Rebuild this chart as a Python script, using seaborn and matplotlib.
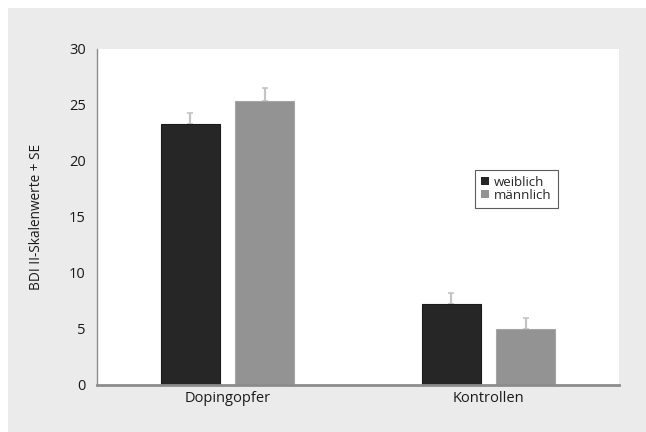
import matplotlib
matplotlib.use("Agg")
import matplotlib.pyplot as plt
from matplotlib.patches import Rectangle
import numpy as np
import pandas as pd
import seaborn as sns

# Mean BDI-II scores with standard errors per group and sex
gruppen = ["Dopingopfer", "Dopingopfer", "Kontrollen", "Kontrollen"]
geschlecht = ["weiblich", "männlich", "weiblich", "männlich"]
mittelwerte = [23.3, 25.4, 7.2, 5.0]
standardfehler = [1.0, 1.1, 1.0, 1.0]
y_ticks = [0, 5, 10, 15, 20, 25, 30]

df = pd.DataFrame({"Gruppe": gruppen, "Geschlecht": geschlecht,
                   "Wert": mittelwerte, "SE": standardfehler})

sns.set_theme(style="white")
plt.rcParams["font.family"] = ["Open Sans", "DejaVu Sans"]

fig = plt.figure(figsize=(6.46, 4.32), dpi=100, facecolor="white")
fig.patches.append(Rectangle((8 / 646, 0), 1, 1 - 8 / 432, transform=fig.transFigure,
                             facecolor="#ebebeb", edgecolor="none", zorder=-10))
ax = fig.add_axes([97 / 646, 1 - 385 / 432, 522 / 646, 336 / 432])
ax.set_facecolor("white")

farben = {"weiblich": "#262626", "männlich": "#939393"}
sns.barplot(data=df, x="Gruppe", y="Wert", hue="Geschlecht",
            hue_order=["weiblich", "männlich"], palette=farben,
            width=0.57, gap=0.2, errorbar=None, ax=ax, legend=False,
            linewidth=0.8, edgecolor="#1a1a1a", saturation=1)

# Outline colours per sex and upward-only error whiskers (drawn behind the bars)
order = [("Dopingopfer", "weiblich"), ("Kontrollen", "weiblich"),
         ("Dopingopfer", "männlich"), ("Kontrollen", "männlich")]
for patch, (g, s) in zip(ax.patches, order):
    patch.set_edgecolor("#1a1a1a" if s == "weiblich" else "#a5a5a5")
    patch.set_zorder(2)
    row = df[(df.Gruppe == g) & (df.Geschlecht == s)].iloc[0]
    xc = patch.get_x() + patch.get_width() / 2
    ax.errorbar([xc], [row.Wert], yerr=[[0], [row.SE]], fmt="none",
                ecolor="#c4c4c4", elinewidth=1.6, capsize=2.5, capthick=1.2, zorder=1)

ax.set_xlim(-0.5, 1.5)
ax.set_ylim(0, 30)
ax.set_yticks(y_ticks)
ax.tick_params(axis="both", length=0, labelsize=10.5, colors="#1a1a1a")
ax.tick_params(axis="y", pad=8)
ax.tick_params(axis="x", pad=4)
ax.set_xlabel("")
ax.set_ylabel("BDI II-Skalenwerte + SE", fontsize=9.8, color="#1a1a1a", labelpad=18)

for side in ["top", "right"]:
    ax.spines[side].set_visible(False)
ax.spines["left"].set_color("#8c8c8c")
ax.spines["left"].set_linewidth(1.0)
ax.spines["bottom"].set_color("#8c8c8c")
ax.spines["bottom"].set_linewidth(2.0)
ax.spines["bottom"].set_zorder(3)

handles = [Rectangle((0, 0), 1, 1, facecolor=farben[k], edgecolor="none")
           for k in ["weiblich", "männlich"]]
leg = ax.legend(handles, ["weiblich", "männlich"], loc="upper left",
                bbox_to_anchor=(0.724, 0.64), frameon=True, fancybox=False,
                fontsize=9.5, handlelength=0.6, handleheight=0.6, handletextpad=0.4,
                labelspacing=0.0, borderpad=0.45, borderaxespad=0)
leg.get_frame().set_edgecolor("#333333")
leg.get_frame().set_linewidth(0.8)

fig.savefig("out.png", dpi=100, facecolor=fig.get_facecolor())
